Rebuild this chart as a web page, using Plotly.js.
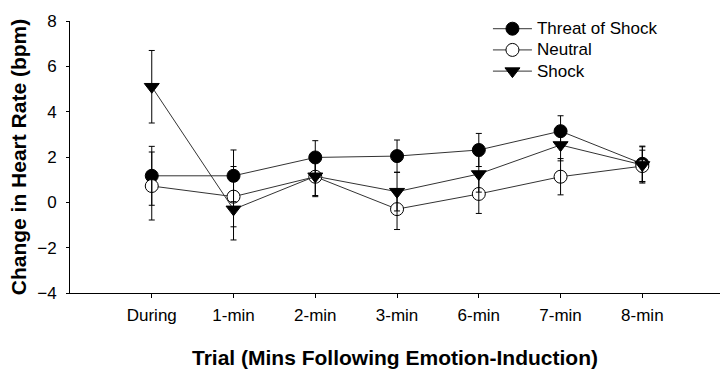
<!DOCTYPE html>
<html>
<head>
<meta charset="utf-8">
<script src="https://cdn.plot.ly/plotly-3.0.1.min.js"></script>
<style>html,body{margin:0;padding:0;background:#fff;}#chart{width:720px;height:369px;}</style>
</head>
<body>
<div id="chart"></div>
<script>
const trials = ["During", "1-min", "2-min", "3-min", "6-min", "7-min", "8-min"];
const threatMean = [1.17, 1.17, 1.98, 2.04, 2.31, 3.14, 1.70];
const threatErr  = [1.30, 1.14, 0.74, 0.71, 0.73, 0.68, 0.78];
const neutralMean = [0.72, 0.25, 1.13, -0.30, 0.37, 1.13, 1.60];
const neutralErr  = [1.50, 1.33, 0.88, 0.90, 0.86, 0.80, 0.70];
const shockMean = [5.10, -0.31, 1.15, 0.47, 1.25, 2.53, 1.65];
const shockErr  = [1.60, 1.35, 0.85, 0.85, 0.80, 0.70, 0.80];
const seriesNames = ["Threat of Shock", "Neutral", "Shock"];

const lineCol = "#333";
function mk(name, y, symbol, fill) {
  return {
    type: "scatter", mode: "lines+markers",
    name: "<span style='font-size:17px'>" + name + "</span>",
    x: trials, y: y,
    line: {color: lineCol, width: 1},
    marker: {symbol: symbol, size: 13, color: fill, line: {color: "#000", width: 1}}
  };
}
function eb(y, e) {
  return {
    type: "scatter", mode: "markers", showlegend: false, hoverinfo: "skip",
    x: trials, y: y,
    marker: {size: 1, opacity: 0},
    error_y: {type: "data", array: e, visible: true, color: "#000", thickness: 1, width: 3}
  };
}
const data = [
  mk(seriesNames[0], threatMean, "circle", "#000"),
  mk(seriesNames[1], neutralMean, "circle", "#fff"),
  mk(seriesNames[2], shockMean, "triangle-down", "#000"),
  eb(threatMean, threatErr),
  eb(neutralMean, neutralErr),
  eb(shockMean, shockErr)
];
const layout = {
  width: 720, height: 369,
  margin: {l: 70, r: 0, t: 21, b: 76},
  paper_bgcolor: "#fff", plot_bgcolor: "#fff",
  font: {family: "Liberation Sans, Arial, sans-serif", color: "#000", size: 17},
  showlegend: true,
  legend: {x: 0.643, y: 1.029, xanchor: "left", yanchor: "top", bgcolor: "rgba(0,0,0,0)",
           font: {size: 14}, tracegroupgap: 0, itemwidth: 39},
  xaxis: {
    type: "category", range: [-1, 6.95],
    showline: true, linecolor: "#000", linewidth: 1,
    ticks: "outside", ticklen: 4, tickcolor: "#000",
    showgrid: false, zeroline: false,
    tickfont: {size: 17}, ticklabelstandoff: 3,
    title: {text: "<b>Trial (Mins Following Emotion-Induction)</b>", font: {size: 21}, standoff: 33}
  },
  yaxis: {
    range: [-4, 8], dtick: 2,
    showline: true, linecolor: "#000", linewidth: 1,
    ticks: "outside", ticklen: 3, tickcolor: "#000",
    showgrid: false, zeroline: false,
    tickfont: {size: 17}, ticklabelstandoff: 6,
    title: {text: "<b>Change in Heart Rate (bpm)</b>", font: {size: 21}, standoff: 4}
  }
};
Plotly.newPlot("chart", data, layout, {displayModeBar: false, staticPlot: true});
</script>
</body>
</html>
